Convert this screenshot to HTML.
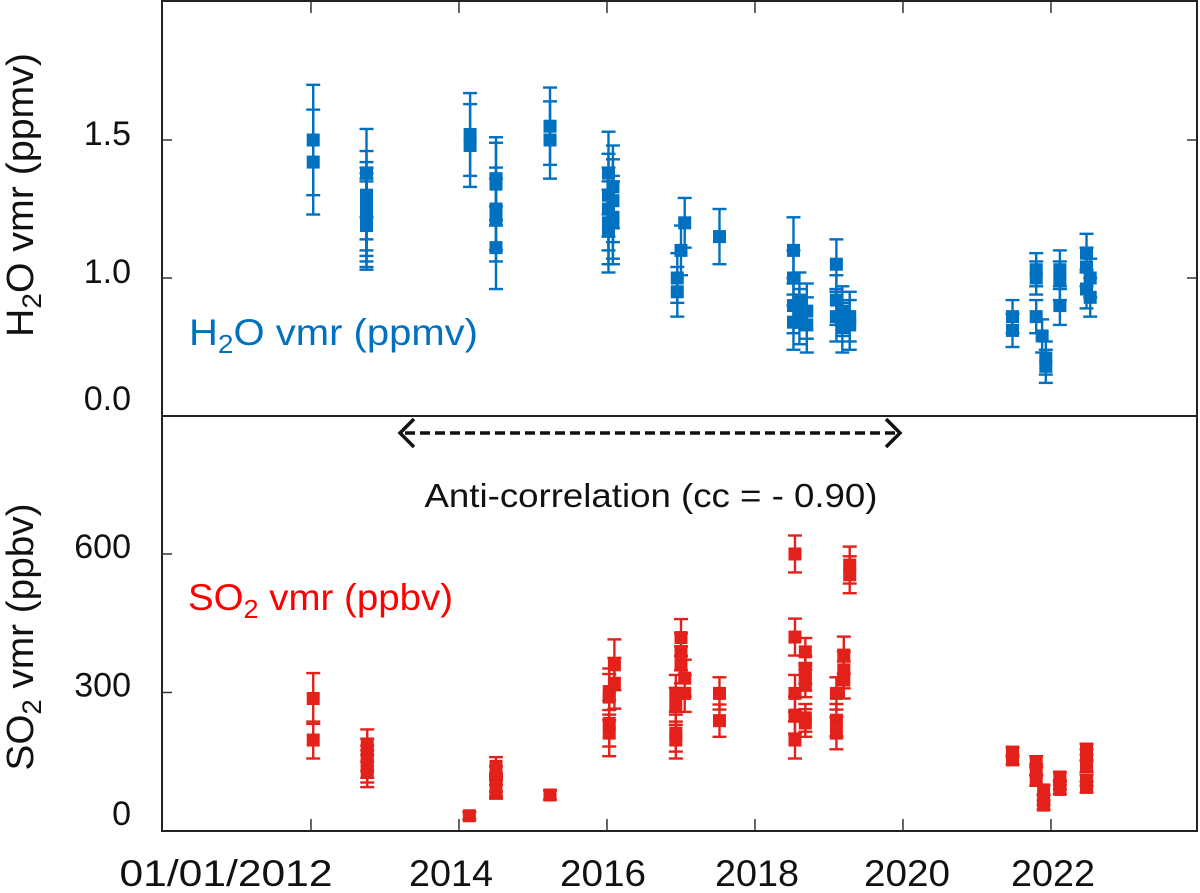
<!DOCTYPE html>
<html><head><meta charset="utf-8"><style>
html,body{margin:0;padding:0;background:#fff;}
svg{display:block;font-family:"Liberation Sans",sans-serif;}
</style></head><body>
<svg id="chart" width="1200" height="893" viewBox="0 0 1200 893" xmlns="http://www.w3.org/2000/svg">
<g id="frame" stroke="#222" stroke-width="2" fill="none">
<rect x="162" y="1" width="1035" height="830"/>
<line x1="162" y1="416" x2="1197" y2="416"/>
</g>
<g id="ticks" stroke="#333" stroke-width="1.5"></g>
<g fill="#111" font-size="34" text-anchor="end" id="ylabels"></g>
<g fill="#111" font-size="37" text-anchor="middle" id="xlabels"></g>
<text transform="translate(33,195) rotate(-90)" text-anchor="middle" font-size="38" fill="#111" textLength="284" lengthAdjust="spacingAndGlyphs">H<tspan font-size="27" dy="8">2</tspan><tspan dy="-8">O vmr (ppmv)</tspan></text>
<text transform="translate(33,637) rotate(-90)" text-anchor="middle" font-size="38" fill="#111" textLength="267" lengthAdjust="spacingAndGlyphs">SO<tspan font-size="27" dy="8">2</tspan><tspan dy="-8"> vmr (ppbv)</tspan></text>
<text x="189" y="345" font-size="37" fill="#0070C0" textLength="289" lengthAdjust="spacingAndGlyphs">H<tspan font-size="26" dy="8">2</tspan><tspan dy="-8">O vmr (ppmv)</tspan></text>
<text x="188" y="610" font-size="37" fill="#FF0000" textLength="265" lengthAdjust="spacingAndGlyphs">SO<tspan font-size="26" dy="8">2</tspan><tspan dy="-8"> vmr (ppbv)</tspan></text>
<g stroke="#111" stroke-width="3.5" fill="none">
<line x1="405" y1="433" x2="895" y2="433" stroke-dasharray="10,5"/>
<polyline points="414,419 400,433 414,447"/>
<polyline points="886,419 900,433 886,447"/>
</g>
<text x="651" y="507" font-size="33" fill="#111" text-anchor="middle" textLength="453" lengthAdjust="spacingAndGlyphs">Anti-correlation (cc = - 0.90)</text>
<g id="h2o"></g>
<g id="so2"></g>
</svg>
<script>
const xTickYears = [2012, 2014, 2016, 2018, 2020, 2022];
const xTickLabels = ["01/01/2012", "2014", "2016", "2018", "2020", "2022"];
const h2oTickValues = [1.5, 1.0];
const h2oTickLabels = ["1.5", "1.0"];
const so2TickValues = [600, 300];
const so2TickLabels = ["600", "300"];
const h2oTimes = [2012.03,2012.03, 2012.75,2012.75,2012.75,2012.75,2012.75,2012.75,2012.75, 2014.15,2014.15, 2014.5,2014.5,2014.5,2014.5,2014.5, 2015.23,2015.23, 2016.02,2016.02,2016.02,2016.02,2016.02,2016.08,2016.08,2016.08,2016.08, 2016.95,2016.95,2017.0,2017.05, 2017.52, 2018.52,2018.52,2018.52,2018.52,2018.6,2018.6,2018.7,2018.7, 2019.1,2019.1,2019.1,2019.18,2019.18,2019.28,2019.28, 2021.48,2021.48, 2021.8,2021.8,2021.8,2021.88,2021.93,2021.93, 2022.12,2022.12,2022.12, 2022.48,2022.48,2022.48,2022.53,2022.53];
const h2oValues = [1.50,1.42, 1.38,1.30,1.26,1.24,1.22,1.20,1.19, 1.52,1.48, 1.36,1.34,1.25,1.21,1.11, 1.55,1.50, 1.38,1.30,1.25,1.20,1.17,1.33,1.28,1.22,1.20, 0.95,1.00,1.10,1.20, 1.15, 1.10,1.00,0.90,0.84,0.92,0.86,0.88,0.83, 1.05,0.92,0.86,0.88,0.82,0.86,0.83, 0.86,0.81, 1.03,1.00,0.86,0.79,0.71,0.68, 1.03,0.99,0.90, 1.09,1.04,0.96,1.00,0.93];
const h2oErrors = [0.20,0.19, 0.16,0.16,0.16,0.16,0.16,0.16,0.16, 0.15,0.15, 0.15,0.15,0.15,0.15,0.15, 0.14,0.14, 0.15,0.15,0.15,0.15,0.15,0.15,0.15,0.15,0.15, 0.09,0.09,0.09,0.09, 0.10, 0.12,0.10,0.10,0.10,0.10,0.10,0.10,0.10, 0.09,0.09,0.09,0.09,0.09,0.09,0.09, 0.06,0.06, 0.06,0.06,0.06,0.06,0.06,0.06, 0.07,0.07,0.07, 0.07,0.07,0.07,0.07,0.07];
const so2Times = [2012.03,2012.03, 2012.76,2012.76,2012.76,2012.76,2012.76, 2014.14, 2014.5,2014.5,2014.5,2014.5,2014.5, 2015.23, 2016.03,2016.03,2016.03,2016.03,2016.1,2016.1, 2016.93,2016.93,2016.93,2016.93,2017.0,2017.0,2017.0,2017.05,2017.05, 2017.52,2017.52, 2018.54,2018.54,2018.54,2018.54,2018.54, 2018.68,2018.68,2018.68,2018.68,2018.68,2018.68, 2019.1,2019.1,2019.1,2019.2,2019.2,2019.2,2019.28,2019.28, 2021.48,2021.48, 2021.8,2021.8,2021.8,2021.9,2021.9,2021.9, 2022.12,2022.12,2022.12, 2022.48,2022.48,2022.48,2022.48,2022.48];
const so2Values = [287,197, 185,165,150,140,130, 33, 140,120,105,95,90, 78, 302,290,233,212,360,320, 298,270,212,197,419,388,360,331,298, 298,239, 600,420,298,251,197, 388,349,334,320,245,234, 298,240,212,381,349,327,576,555, 171,154, 150,132,110,89,67,56, 117,100,90, 177,165,140,110,95];
const so2Errors = [55,40, 35,35,35,35,35, 8, 20,20,20,20,20, 10, 50,50,50,50,55,55, 40,40,40,40,40,40,40,40,40, 35,35, 40,40,40,40,40, 30,30,30,30,30,30, 35,35,35,40,40,40,40,40, 10,10, 12,12,12,10,10,10, 10,10,10, 12,12,12,12,12];

const NS = "http://www.w3.org/2000/svg";
function xScale(t){ return 311 + (t - 2012) * 74; }
function yH2O(v){ return 278 - (v - 1) * 276; }
function ySO2(v){ return 831 - v * 0.4617; }
function mk(tag, attrs, parent){ const e = document.createElementNS(NS, tag); for (const k in attrs) e.setAttribute(k, attrs[k]); parent.appendChild(e); return e; }

const ticks = document.getElementById('ticks');
xTickYears.forEach((yr, i) => {
  const x = xScale(yr);
  const b = mk('line', {x1:x, y1:831, x2:x, y2:819}, ticks);
  
  
  const t = mk('line', {x1:x, y1:1, x2:x, y2:13}, ticks);
  
  
});
const xLabelCenters = [226, 451, 603, 757, 907, 1053];
const xLabelWidths = [213, 84, 86, 84, 86, 84];
const xl = document.getElementById('xlabels');
xTickLabels.forEach((s, i) => {
  const el = mk('text', {x: xLabelCenters[i], y: 886, textLength: xLabelWidths[i], lengthAdjust: 'spacingAndGlyphs'}, xl);
  el.textContent = s;
  
  
});
const yl = document.getElementById('ylabels');
h2oTickValues.forEach((v, i) => {
  const y = yH2O(v);
  const l = mk('line', {x1:162, y1:y, x2:172, y2:y}, ticks);
  
  
  const r = mk('line', {x1:1187, y1:y, x2:1197, y2:y}, ticks);
  
  
  const el = mk('text', {x:131, y:y + 5}, yl);
  el.textContent = h2oTickLabels[i];
  
  
});
const zl = mk('text', {x:131, y:410}, yl);
zl.textContent = "0.0";


so2TickValues.forEach((v, i) => {
  const y = ySO2(v);
  const l = mk('line', {x1:162, y1:y, x2:172, y2:y}, ticks);
  
  
  const el = mk('text', {x:131, y:y + 4}, yl);
  el.textContent = so2TickLabels[i];
  
  
});
const z2 = mk('text', {x:131, y:825}, yl);
z2.textContent = "0";



function drawSeries(gid, times, vals, errs, yf, color, name){
  const g = document.getElementById(gid);
  times.forEach((t, i) => {
    const x = xScale(t), y1 = yf(vals[i] + errs[i]), y2 = yf(vals[i] - errs[i]);
    const eg = mk('g', {stroke: color, 'stroke-width': 2.4}, g);
    
    
    mk('line', {x1:x, y1:y1, x2:x, y2:y2}, eg);
    mk('line', {x1:x-7, y1:y1, x2:x+7, y2:y1}, eg);
    mk('line', {x1:x-7, y1:y2, x2:x+7, y2:y2}, eg);
  });
  times.forEach((t, i) => {
    const x = xScale(t), y = yf(vals[i]);
    const r = mk('rect', {x:x-6.5, y:y-6.5, width:13, height:13, fill: color}, g);
    
    
  });
}
drawSeries('h2o', h2oTimes, h2oValues, h2oErrors, yH2O, '#0070C0', 'h2o');
drawSeries('so2', so2Times, so2Values, so2Errors, ySO2, '#E3201A', 'so2');
</script>
</body></html>
